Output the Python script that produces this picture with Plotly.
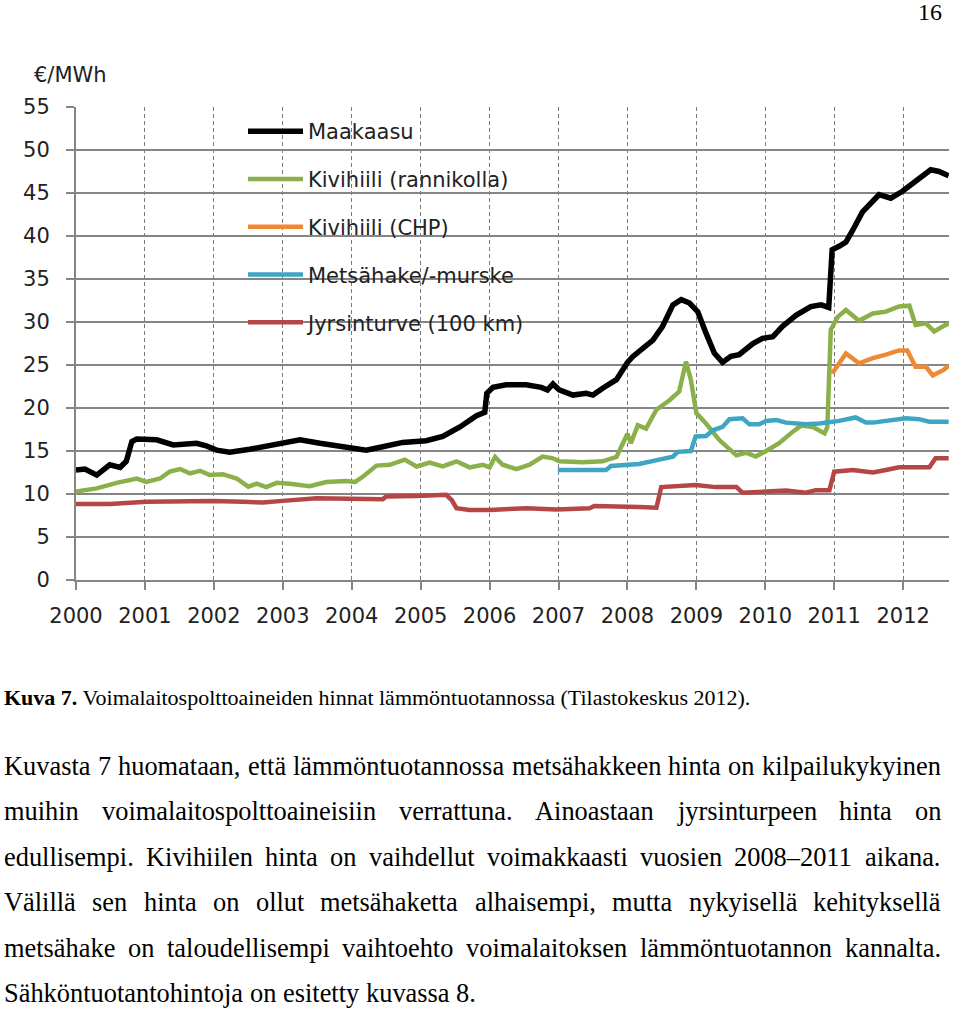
import plotly.graph_objects as go

# ---------------- data ----------------
years = list(range(2000, 2013))
year_labels = [str(y) for y in years]

maakaasu_x = [2000.0, 2000.13, 2000.30, 2000.49, 2000.64, 2000.73, 2000.81, 2000.88, 2001.17, 2001.41,
              2001.75, 2001.89, 2002.04, 2002.23, 2002.52, 2002.81, 2003.0, 2003.25, 2003.54, 2003.78,
              2003.97, 2004.21, 2004.45, 2004.74, 2005.08, 2005.32, 2005.57, 2005.81, 2005.93, 2005.96,
              2006.05, 2006.24, 2006.53, 2006.75, 2006.84, 2006.92, 2007.01, 2007.21, 2007.40, 2007.50,
              2007.64, 2007.84, 2008.0, 2008.08, 2008.37, 2008.51, 2008.66, 2008.78, 2008.90, 2009.02,
              2009.14, 2009.26, 2009.38, 2009.50, 2009.62, 2009.82, 2009.96, 2010.11, 2010.25, 2010.45,
              2010.66, 2010.81, 2010.92, 2010.97, 2011.07, 2011.17, 2011.27, 2011.41, 2011.65, 2011.82,
              2011.99, 2012.18, 2012.40, 2012.52, 2012.66]
maakaasu_y = [12.8, 12.9, 12.2, 13.4, 13.1, 13.8, 16.1, 16.4, 16.3, 15.7,
              15.9, 15.6, 15.1, 14.85, 15.2, 15.65, 15.9, 16.3, 15.9, 15.6,
              15.5, 15.1, 15.5, 16.0, 16.2, 16.7, 17.8, 19.1, 19.5, 21.7,
              22.4, 22.7, 22.7, 22.4, 22.1, 22.8, 22.1, 21.5, 21.7, 21.5,
              22.3, 23.3, 25.3, 26.0, 27.9, 29.5, 32.0, 32.6, 32.2, 31.2,
              28.7, 26.4, 25.3, 26.0, 26.2, 27.5, 28.1, 28.3, 29.5, 30.8,
              31.8, 32.0, 31.7, 38.4, 38.8, 39.3, 40.7, 42.8, 44.8, 44.4,
              45.2, 46.3, 47.7, 47.5, 47.0]

kivihiili_x = [2000.0, 2000.30, 2000.59, 2000.88, 2001.02, 2001.22, 2001.36, 2001.51, 2001.65, 2001.80,
               2001.94, 2002.13, 2002.33, 2002.50, 2002.62, 2002.76, 2002.91, 2003.10, 2003.39, 2003.63,
               2003.92, 2004.05, 2004.16, 2004.36, 2004.55, 2004.77, 2004.94, 2005.13, 2005.32, 2005.52,
               2005.71, 2005.90, 2006.00, 2006.08, 2006.19, 2006.39, 2006.58, 2006.77, 2006.92, 2007.01,
               2007.35, 2007.64, 2007.84, 2007.93, 2008.00, 2008.05, 2008.15, 2008.27, 2008.42, 2008.61,
               2008.75, 2008.85, 2008.92, 2009.00, 2009.14, 2009.33, 2009.58, 2009.72, 2009.86, 2010.01,
               2010.20, 2010.40, 2010.52, 2010.69, 2010.86, 2010.90, 2010.95, 2011.05, 2011.17, 2011.36,
               2011.56, 2011.75, 2011.94, 2012.09, 2012.18, 2012.33, 2012.45, 2012.58, 2012.66]
kivihiili_y = [10.3, 10.65, 11.3, 11.8, 11.4, 11.8, 12.6, 12.9, 12.4, 12.7,
               12.2, 12.3, 11.8, 10.85, 11.2, 10.8, 11.3, 11.2, 10.9, 11.4,
               11.5, 11.4, 12.0, 13.3, 13.4, 14.0, 13.2, 13.65, 13.2, 13.8,
               13.1, 13.4, 13.1, 14.3, 13.4, 12.9, 13.4, 14.35, 14.15, 13.8,
               13.7, 13.8, 14.3, 15.7, 17.0, 15.9, 18.0, 17.6, 19.8, 20.9,
               21.9, 25.4, 23.3, 19.4, 18.2, 16.3, 14.5, 14.8, 14.35, 15.0,
               15.9, 17.25, 17.95, 17.8, 17.05, 17.8, 29.1, 30.6, 31.4, 30.15,
               31.0, 31.2, 31.8, 31.9, 29.65, 29.85, 28.9, 29.5, 29.85]

chp_x = [2010.97, 2011.02, 2011.17, 2011.36, 2011.56, 2011.75, 2011.94, 2012.06, 2012.18, 2012.33,
         2012.43, 2012.58, 2012.66]
chp_y = [24.0, 24.6, 26.35, 25.2, 25.8, 26.2, 26.7, 26.7, 24.8, 24.8,
         23.8, 24.4, 24.9]

hake_x = [2006.99, 2007.69, 2007.76, 2008.17, 2008.46, 2008.66, 2008.73, 2008.92, 2008.99, 2009.14,
          2009.24, 2009.38, 2009.48, 2009.67, 2009.77, 2009.91, 2010.01, 2010.16, 2010.30, 2010.59,
          2010.78, 2011.07, 2011.31, 2011.46, 2011.56, 2011.75, 2012.04, 2012.23, 2012.38, 2012.66]
hake_y = [12.8, 12.8, 13.25, 13.5, 14.0, 14.35, 14.9, 15.0, 16.7, 16.75,
          17.4, 17.8, 18.7, 18.8, 18.1, 18.1, 18.5, 18.6, 18.3, 18.1,
          18.2, 18.5, 18.9, 18.3, 18.3, 18.5, 18.8, 18.7, 18.4, 18.4]

turve_x = [2000.0, 2000.49, 2001.02, 2001.99, 2002.42, 2002.71, 2003.0, 2003.49, 2004.45, 2004.50,
           2004.94, 2005.37, 2005.45, 2005.52, 2005.71, 2006.0, 2006.53, 2006.97, 2007.45, 2007.52,
           2008.17, 2008.42, 2008.49, 2008.99, 2009.28, 2009.58, 2009.67, 2010.30, 2010.59, 2010.73,
           2010.93, 2011.0, 2011.27, 2011.56, 2011.75, 2011.94, 2012.38, 2012.47, 2012.66]
turve_y = [8.85, 8.85, 9.1, 9.2, 9.1, 9.0, 9.2, 9.5, 9.4, 9.7,
           9.77, 9.9, 9.3, 8.35, 8.15, 8.15, 8.35, 8.2, 8.35, 8.6,
           8.5, 8.4, 10.8, 11.05, 10.8, 10.8, 10.15, 10.4, 10.15, 10.45,
           10.45, 12.6, 12.8, 12.5, 12.8, 13.1, 13.1, 14.15, 14.15]

series_names = ["Maakaasu", "Kivihiili (rannikolla)", "Kivihiili (CHP)",
                "Metsähake/-murske", "Jyrsinturve (100 km)"]

y_unit = "€/MWh"
page_number = "16"
caption_bold = "Kuva 7."
caption_rest = "Voimalaitospolttoaineiden hinnat lämmöntuotannossa (Tilastokeskus 2012)."
body_lines = [
    "Kuvasta 7 huomataan, että lämmöntuotannossa metsähakkeen hinta on kilpailukykyinen",
    "muihin voimalaitospolttoaineisiin verrattuna. Ainoastaan jyrsinturpeen hinta on",
    "edullisempi. Kivihiilen hinta on vaihdellut voimakkaasti vuosien 2008–2011 aikana.",
    "Välillä sen hinta on ollut metsähaketta alhaisempi, mutta nykyisellä kehityksellä",
    "metsähake on taloudellisempi vaihtoehto voimalaitoksen lämmöntuotannon kannalta.",
    "Sähköntuotantohintoja on esitetty kuvassa 8.",
]

# ---------------- layout geometry ----------------
W, H = 960, 1010
L, R, T, B = 76, 11, 107, 430
PW = W - L - R
PH = H - T - B
X0 = H - B


def px_x(px):
    return (px - L) / PW


def px_y(py):
    return (X0 - py) / PH


colors = ["#000000", "#8bb04a", "#ee8a33", "#3ea5c2", "#b54646"]
widths = [5.5, 4.5, 4.5, 4.5, 4.5]
xs = [maakaasu_x, kivihiili_x, chp_x, hake_x, turve_x]
ys = [maakaasu_y, kivihiili_y, chp_y, hake_y, turve_y]

fig = go.Figure()
for i in range(5):
    fig.add_trace(go.Scatter(
        x=xs[i], y=ys[i], mode="lines", name=series_names[i],
        legendgroup=f"g{i}",
        line=dict(color=colors[i], width=widths[i]),
        hoverinfo="x+y+name",
    ))

grid_gray = "#858585"
fig.update_xaxes(
    range=[2000, 2012.665], tickvals=years, ticktext=year_labels,
    showgrid=True, gridcolor="#7a7a7a", gridwidth=1.2, griddash="4px,3px",
    showline=True, linecolor=grid_gray, linewidth=2,
    ticks="outside", ticklen=8, tickcolor=grid_gray, tickwidth=1.5,
    tickfont=dict(family="DejaVu Sans", size=21, color="#222222"),
    ticklabelstandoff=8, zeroline=False, fixedrange=True,
)
fig.update_yaxes(
    range=[0, 55], dtick=5, tick0=0,
    showgrid=True, gridcolor=grid_gray, gridwidth=2,
    showline=True, linecolor=grid_gray, linewidth=2,
    ticks="outside", ticklen=8, tickcolor=grid_gray, tickwidth=2,
    tickfont=dict(family="DejaVu Sans", size=21, color="#222222"),
    ticklabelstandoff=12, zeroline=False, fixedrange=True,
)

# ---------------- text annotations ----------------
TNR = {
    'a': 444, 'b': 500, 'c': 444, 'd': 500, 'e': 444, 'f': 333, 'g': 500, 'h': 500, 'i': 278,
    'j': 278, 'k': 500, 'l': 278, 'm': 778, 'n': 500, 'o': 500, 'p': 500, 'q': 500, 'r': 333,
    's': 389, 't': 278, 'u': 500, 'v': 500, 'w': 722, 'x': 500, 'y': 500, 'z': 444, 'ä': 444,
    'ö': 500, '.': 250, ',': 250, '–': 500, '-': 333, ' ': 250, 'K': 722, 'A': 722, 'V': 722,
    'S': 556, 'T': 611, '(': 333, ')': 333,
}
for d in "0123456789":
    TNR[d] = 500


def word_w(word, size):
    return sum(TNR.get(c, 500) for c in word) * size / 1000.0


annotations = []
body_size = 26.4
serif = "Liberation Serif"
left_px, right_px = 4, 941
line_y = [766, 811, 857, 902, 948, 993]
for k, line in enumerate(body_lines):
    words = line.split(" ")
    justify = k < len(body_lines) - 1
    ws = [word_w(w, body_size) for w in words]
    if justify:
        gap = (right_px - left_px - sum(ws)) / (len(words) - 1)
    else:
        gap = word_w(" ", body_size)
    xpos = left_px
    for w, wd in zip(words, ws):
        annotations.append(dict(
            xref="paper", yref="paper", x=px_x(xpos), y=px_y(line_y[k]),
            xanchor="left", yanchor="middle", showarrow=False, text=w,
            borderpad=0, borderwidth=0,
            font=dict(family=serif, size=body_size, color="#000000"),
        ))
        xpos += wd + gap

annotations.append(dict(
    xref="paper", yref="paper", x=px_x(4), y=px_y(697),
    xanchor="left", yanchor="middle", showarrow=False,
    text=f"<b>{caption_bold}</b> {caption_rest}", borderpad=0, borderwidth=0,
    font=dict(family=serif, size=22, color="#000000"),
))
annotations.append(dict(
    xref="paper", yref="paper", x=px_x(942), y=px_y(12),
    xanchor="right", yanchor="middle", showarrow=False,
    text=page_number, borderpad=0, borderwidth=0,
    font=dict(family=serif, size=24, color="#000000"),
))
annotations.append(dict(
    xref="paper", yref="paper", x=px_x(34), y=px_y(75),
    xanchor="left", yanchor="middle", showarrow=False,
    text=y_unit, borderpad=0, borderwidth=0,
    font=dict(family="DejaVu Sans", size=21, color="#222222"),
))

fig.update_layout(
    width=W, height=H, autosize=False,
    margin=dict(l=L, r=R, t=T, b=B, pad=0),
    paper_bgcolor="white", plot_bgcolor="white",
    showlegend=True,
    legend=dict(
        x=px_x(243), y=px_y(111), xanchor="left", yanchor="top",
        bgcolor="rgba(0,0,0,0)", borderwidth=0,
        font=dict(family="DejaVu Sans", size=21, color="#222222"),
        itemwidth=55, traceorder="grouped", tracegroupgap=17.5,
        itemclick=False, itemdoubleclick=False,
    ),
    annotations=annotations,
    font=dict(family="DejaVu Sans"),
)

fig.write_html("out.html", config={"displayModeBar": False},
               post_script="document.body.style.margin='0';document.body.style.overflow='hidden';")
